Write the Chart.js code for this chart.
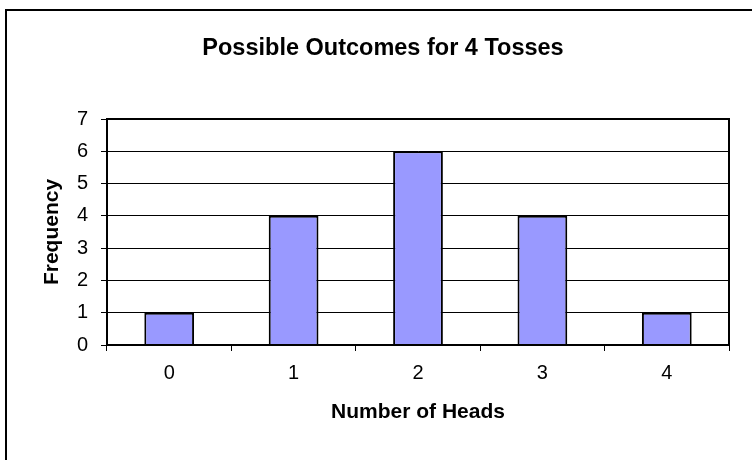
<!DOCTYPE html>
<html>
<head>
<meta charset="utf-8">
<script src="https://cdn.jsdelivr.net/npm/chart.js@4"></script>
<style>
html,body{margin:0;padding:0;background:#fff;overflow:hidden;}
#wrap{width:752px;height:460px;position:relative;}
</style>
</head>
<body>
<div id="wrap"><canvas id="c" width="752" height="460"></canvas></div>
<script>
const categories = ['0', '1', '2', '3', '4'];
const frequencies = [1, 4, 6, 4, 1];
const yTicks = [0, 1, 2, 3, 4, 5, 6, 7];
const chartTitle = 'Possible Outcomes for 4 Tosses';
const xTitle = 'Number of Heads';
const yTitle = 'Frequency';

const FONT = "'Liberation Sans', Arial, sans-serif";

const frames = {
  id: 'frames',
  afterDraw(chart) {
    const {ctx, chartArea: a} = chart;
    ctx.save();
    ctx.strokeStyle = '#000';
    ctx.lineWidth = 2;
    ctx.strokeRect(a.left, a.top, a.right - a.left, a.bottom - a.top);
    ctx.strokeRect(6, 10, 900, 900);
    ctx.restore();
  }
};

new Chart(document.getElementById('c'), {
  type: 'bar',
  data: {
    labels: categories,
    datasets: [{
      data: frequencies,
      backgroundColor: '#9999FF',
      borderColor: '#000',
      borderWidth: 2,
      barPercentage: 0.4,
      categoryPercentage: 1.0
    }]
  },
  options: {
    responsive: false,
    animation: false,
    devicePixelRatio: 1,
    layout: { padding: { left: 37, right: 23, top: 0, bottom: 0 } },
    plugins: {
      legend: { display: false },
      tooltip: { enabled: false },
      title: {
        display: true,
        text: chartTitle,
        color: '#000',
        font: { family: FONT, size: 23.5, weight: 'bold', lineHeight: 1.2 },
        padding: { top: 34.4, bottom: 56.4 }
      }
    },
    scales: {
      x: {
        afterFit(s) { s.height = 115; },
        grid: { drawOnChartArea: false, drawTicks: true, tickLength: 6, color: '#000', lineWidth: 1 },
        border: { display: true, color: '#000', width: 2 },
        ticks: { color: '#000', padding: 10, font: { family: FONT, size: 20 } },
        title: {
          display: true, text: xTitle, color: '#000',
          font: { family: FONT, size: 21, weight: 'bold', lineHeight: 1.2 },
          padding: { top: 0, bottom: 35.4 }
        }
      },
      y: {
        min: 0, max: 7,
        afterFit(s) { s.width = 70; },
        afterBuildTicks(s) { s.ticks = yTicks.map(v => ({ value: v })); },
        grid: { drawTicks: true, tickLength: 6, color: '#000', lineWidth: 1 },
        border: { display: true, color: '#000', width: 2 },
        ticks: { color: '#000', padding: 13, font: { family: FONT, size: 20 } },
        title: {
          display: true, text: yTitle, color: '#000',
          font: { family: FONT, size: 21, weight: 'bold', lineHeight: 1.2 },
          padding: { top: 2.4, bottom: 0 }
        }
      }
    }
  },
  plugins: [frames]
});
</script>
</body>
</html>
